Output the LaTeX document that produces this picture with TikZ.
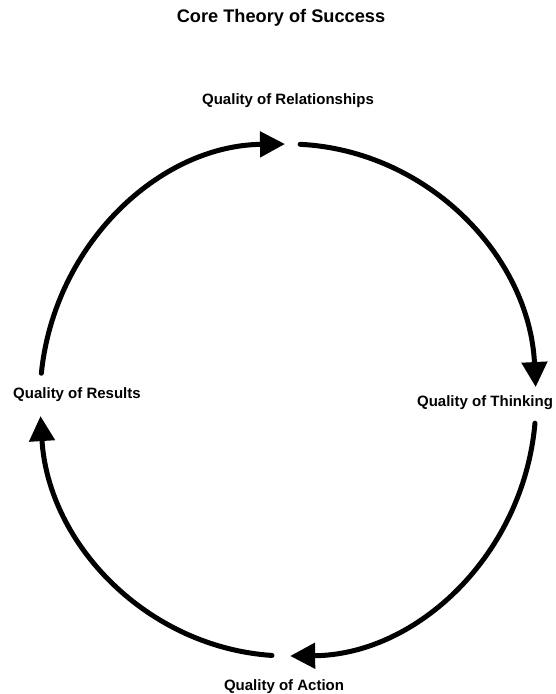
\documentclass[tikz,border=0pt]{standalone}
\usepackage{fontspec}
\setmainfont{Liberation Sans}
\usetikzlibrary{arrows.meta,calc}
\begin{document}
\begin{tikzpicture}[x=1pt,y=1pt,
  flow/.style={line width=5pt, line cap=round, -{Triangle[length=25pt,width=25pt]}},
  lbl/.style={font=\bfseries\fontsize{15}{18}\selectfont, inner sep=0pt},
  ttl/.style={font=\bfseries\fontsize{18.2}{22}\selectfont, inner sep=0pt}]
\useasboundingbox (0,0) rectangle (555,694);
\coordinate (c) at (288,294);
\node[ttl] (title) at (281,676) {Core Theory of Success};
\node[lbl] (rel) at (288,593) {Quality of Relationships};
\node[lbl] (thk) at (485,291) {Quality of Thinking};
\node[lbl] (act) at (284,7) {Quality of Action};
\node[lbl] (res) at (77,299) {Quality of Results};
\coordinate (s1) at ($(c)+(174:248 and 256)$);
\coordinate (s2) at ($(c)+(87.2:248 and 256)$);
\coordinate (s3) at ($(c)+(-5.2:248 and 256)$);
\coordinate (s4) at ($(c)+(-93.7:248 and 256)$);
\draw[flow] (s1) arc[start angle=174, end angle=90.7, x radius=248, y radius=256];
\draw[flow] (s2) arc[start angle=87.2, end angle=2.9, x radius=248, y radius=256];
\draw[flow] (s3) arc[start angle=-5.2, end angle=-89.5, x radius=248, y radius=256];
\draw[flow] (s4) arc[start angle=-93.7, end angle=-176.4, x radius=248, y radius=256];
\end{tikzpicture}
\end{document}
